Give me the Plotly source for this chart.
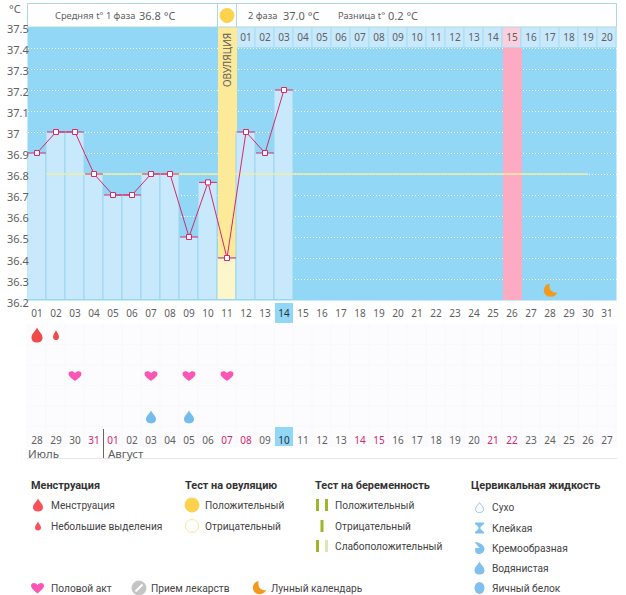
import plotly.graph_objects as go

W, H = 626, 595
FONT = "Noto Sans"
LEGEND_FONT = "Roboto"
# ---- data
days = list(range(1, 32))
top_dates = [f"{d:02d}" for d in days]
bottom_dates = ["28", "29", "30", "31"] + [f"{d:02d}" for d in range(1, 28)]
weekend_dates = {"31", "01", "07", "08", "14", "15", "21", "22"}
temp_days = list(range(1, 15))
temps = [36.9, 37.0, 37.0, 36.8, 36.7, 36.7, 36.8, 36.8, 36.5, 36.76, 36.4, 37.0, 36.9, 37.2]
y_ticks = [37.5, 37.4, 37.3, 37.2, 37.1, 37, 36.9, 36.8, 36.7, 36.6, 36.5, 36.4, 36.3, 36.2]
y_ticktext = ["37.5", "37.4", "37.3", "37.2", "37.1", "37", "36.9", "36.8", "36.7", "36.6", "36.5", "36.4", "36.3", "36.2"]
mean_line_days = [1.5, 30]
mean_line_vals = [36.8, 36.8]
ovulation_day = 11
ovulation_temp = 36.4
peak_day = 26
moon_day = 28
moon_temp = 36.245
phase2_days = list(range(12, 32))
phase2_labels = [f"{d:02d}" for d in range(1, 21)]
today_day = 14
today_bottom_index = 13
menses_big_days = [1]
menses_small_days = [2]
sex_days = [3, 7, 9, 11]
fluid_days = [7, 9]
rows = ["fluid", "sex", "menses"]

BLUE = "#92d7f5"
PALE = "#c8e9fb"
SEP = "#9ad5ef"
PINKLINE = "#d6286c"
TXT = "#606060"
LTXT = "#444444"


def fx(px):
    return px / W


def fy(py):
    return 1 - py / H


shapes, annos = [], []


def drop(w, h):
    t, m = h / 2, -h / 6
    return (f"M0,{t} C{w*0.12},{t*0.55} {w/2},{h*0.08} {w/2},{m} "
            f"C{w/2},{-h*0.42} {w*0.25},{-t} 0,{-t} C{-w*0.25},{-t} {-w/2},{-h*0.42} {-w/2},{m} "
            f"C{-w/2},{h*0.08} {-w*0.12},{t*0.55} 0,{t} Z")


def heart(w, h):
    a, b = w / 2, h / 2
    return (f"M0,{-b} C{-a*0.5},{-b*0.5} {-a},{-b*0.05} {-a},{b*0.4} C{-a},{b*1.05} {-a*0.3},{b*1.1} 0,{b*0.55} "
            f"C{a*0.3},{b*1.1} {a},{b*1.05} {a},{b*0.4} C{a},{-b*0.05} {a*0.5},{-b*0.5} 0,{-b} Z")


def moon(s):
    return (f"M{-s*0.05},{s} C{-s*1.15},{s*0.8} {-s*1.2},{-s*0.85} {s*0.1},{-s*0.9} "
            f"C{s*0.6},{-s*0.9} {s*0.95},{-s*0.55} {s},{-s*0.3} "
            f"C{s*0.5},{-s*0.35} {-s*0.25},{-s*0.1} {-s*0.05},{s} Z")


def icon(path, x, y, color, xref="x", yref="y", line=None, lw=0, layer="above"):
    shapes.append(dict(type="path", path=path, xref=xref, yref=yref, xanchor=x, yanchor=y,
                       xsizemode="pixel", ysizemode="pixel", fillcolor=color,
                       line=dict(color=line or color, width=lw), layer=layer))


def paper_rect(x0, y0, x1, y1, fill, line=None, lw=0, layer="below"):
    shapes.append(dict(type="rect", xref="paper", yref="paper", x0=fx(x0), x1=fx(x1), y0=fy(y0), y1=fy(y1),
                       fillcolor=fill, line=dict(color=line or fill, width=lw), layer=layer))


def label(x, y, text, size=11, color=TXT, anchor="left", family=FONT):
    annos.append(dict(xref="paper", yref="paper", x=fx(x), y=fy(y), text=text, showarrow=False, xanchor=anchor,
                      yanchor="middle", font=dict(family=family, size=size, color=color), borderpad=0))


def legend_label(x, y, text):
    label(x, y, text, 10.2, LTXT, family=LEGEND_FONT)


def legend_icon(path, px, py, color, **kw):
    icon(path, fx(px), fy(py), color, xref="paper", yref="paper", **kw)


def legend_circle(px, py, r, fill, line):
    shapes.append(dict(type="circle", xref="paper", yref="paper", xsizemode="pixel", ysizemode="pixel",
                       xanchor=fx(px), yanchor=fy(py), x0=-r, x1=r, y0=-r, y1=r, fillcolor=fill,
                       line=dict(color=line, width=1), layer="above"))


# ---- backgrounds
paper_rect(27.5, 27, 616.5, 300.5, BLUE)
paper_rect(27.5, 324, 616.5, 447, "#fcfbfd")
for i in range(32):
    x = 27 + 19 * i
    shapes.append(dict(type="line", xref="paper", yref="paper", x0=fx(x), x1=fx(x), y0=fy(324), y1=fy(447),
                       line=dict(color="#f9f8fb", width=1), layer="below"))
for j in range(1, 6):
    y = 324 + 20.5 * j
    shapes.append(dict(type="line", xref="paper", yref="paper", x0=fx(27.5), x1=fx(616.5), y0=fy(y), y1=fy(y),
                       line=dict(color="#f9f8fb", width=1), layer="below"))
# header
paper_rect(27.5, 3.5, 616.5, 27, "#ffffff", "#abd8e2", 1, "above")
for x in (217.5, 236.5):
    shapes.append(dict(type="line", xref="paper", yref="paper", x0=fx(x), x1=fx(x), y0=fy(3.5), y1=fy(27),
                       line=dict(color="#abd8e2", width=1), layer="above"))
legend_circle(227, 15.5, 7, "#fdd24c", "#fdd24c")
# today boxes
paper_rect(275, 303, 293, 323, BLUE)
paper_rect(275, 427, 293, 446, BLUE)
# rule under calendar
shapes.append(dict(type="line", xref="paper", yref="paper", x0=fx(27), x1=fx(617), y0=fy(458.5), y1=fy(458.5),
                   line=dict(color="#e6e6e6", width=1), layer="below"))
shapes.append(dict(type="line", xref="paper", yref="paper", x0=fx(103.5), x1=fx(103.5), y0=fy(429), y1=fy(458),
                   line=dict(color="#666666", width=1), layer="above"))

# ---- calendar marks
for d in menses_big_days:
    icon(drop(11, 15), d, "menses", "#f04a4a", xref="x2", yref="y2")
for d in menses_small_days:
    icon(drop(6, 10), d, "menses", "#f04a4a", xref="x2", yref="y2")
for d in sex_days:
    icon(heart(13, 10), d, "sex", "#fb55b5", xref="x2", yref="y2")
for d in fluid_days:
    icon(drop(10, 13), d, "fluid", "#74bcee", xref="x2", yref="y2")
icon(moon(7), moon_day, moon_temp, "#f39a1e")

# ---- y labels and texts
for v, t in zip(y_ticks, y_ticktext):
    annos.append(dict(xref="paper", yref="y", x=fx(4.5), y=v, text=t, showarrow=False, xanchor="left",
                      yanchor="middle", yshift=-2, font=dict(family=FONT, size=11, color=TXT)))
label(8, 8.5, "°C", 11)
label(54, 15.5, "Средняя t° 1 фаза", 9.3)
label(138, 15.5, "36.8 °C", 11)
label(247, 15.5, "2 фаза", 9.3)
label(282, 15.5, "37.0 °C", 11)
label(337, 15.5, "Разница t°", 9.3)
label(387, 15.5, "0.2 °C", 11)
annos.append(dict(xref="x", yref="paper", x=ovulation_day, y=fy(60), text="ОВУЛЯЦИЯ", textangle=-90, showarrow=False,
                  xanchor="center", yanchor="middle", font=dict(family=FONT, size=10, color=TXT)))
label(27, 453, "Июль", 11.5)
label(107, 453, "Август", 11.5)

# ---- legend
for x, t in [(30, "Менструация"), (184, "Тест на овуляцию"), (314, "Тест на беременность"), (470, "Цервикальная жидкость")]:
    label(x, 485, f"<b>{t}</b>", 10.9, "#333333", family=LEGEND_FONT)
legend_icon(drop(10, 13), 38, 505, "#f9505a")
legend_icon(drop(6, 9), 38, 526, "#f9505a")
legend_label(50, 505, "Менструация")
legend_label(50, 526, "Небольшие выделения")
legend_circle(192, 505, 7, "#fdd24c", "#fdd24c")
legend_circle(192, 526, 6.5, "#ffffff", "#fbe49b")
legend_label(204, 505, "Положительный")
legend_label(204, 526, "Отрицательный")
GREEN = "#9bb82a"


def stick(x, y, color):
    paper_rect(x - 1.5, y - 6, x + 1.5, y + 6, color, layer="above")


stick(317.5, 505, GREEN)
stick(326.5, 505, GREEN)
stick(322, 526, GREEN)
stick(317.5, 546, GREEN)
stick(326.5, 546, "#dde6b5")
legend_label(334, 505, "Положительный")
legend_label(334, 526, "Отрицательный")
legend_label(334, 546, "Слабоположительный")
FL = "#7fc0ef"
legend_icon(drop(8, 10), 479.5, 507.5, "#ffffff", line="#9cc8e6", lw=1)
legend_icon("M-4.5,5.5 L4.5,5.5 L4.5,4 L1,1 L1,-1 L4.5,-4 L4.5,-5.5 L-4.5,-5.5 L-4.5,-4 L-1,-1 L-1,1 L-4.5,4 Z", 479.5, 528, FL)
legend_icon("M-5,6 C0,6 5,3 5,-1 C5,-4 2,-6 -1,-6 C-4,-6 -5,-3 -4,0 L0,0 Z", 479.5, 548, FL)
legend_icon(drop(10, 13), 479.5, 568, FL)
shapes.append(dict(type="circle", xref="paper", yref="paper", xsizemode="pixel", ysizemode="pixel",
                   xanchor=fx(479.5), yanchor=fy(588), x0=-5, x1=5, y0=-6, y1=6, fillcolor=FL,
                   line=dict(color=FL, width=0), layer="above"))
legend_label(491, 507, "Сухо")
legend_label(491, 528, "Клейкая")
legend_label(491, 548, "Кремообразная")
legend_label(491, 568, "Водянистая")
legend_label(491, 588, "Яичный белок")
legend_icon(heart(13, 11), 37.5, 588, "#fb55b5")
legend_circle(139, 588, 7, "#c4c4c4", "#c4c4c4")
shapes.append(dict(type="line", xref="paper", yref="paper", xsizemode="pixel", ysizemode="pixel", xanchor=fx(139),
                   yanchor=fy(588), x0=-3.5, x1=3.5, y0=-3.5, y1=3.5, line=dict(color="#ffffff", width=2), layer="above"))
legend_icon(moon(7), 259, 588, "#f39a1e")
legend_label(50, 588, "Половой акт")
legend_label(150, 588, "Прием лекарств")
legend_label(270, 588, "Лунный календарь")

# ---- traces
fig = go.Figure()
fig.add_bar(x=phase2_days, y=[0.1] * len(phase2_days), base=37.4, width=1,
            marker=dict(color=["#fbd0dc" if d == peak_day else PALE for d in phase2_days],
                        line=dict(color="#a6dcf5", width=1)), xaxis="x", yaxis="y")
fig.add_bar(x=[peak_day], y=[37.4 - 36.2], base=36.2, width=0.95, marker=dict(color="#fcabc2", line=dict(width=0)))
fig.add_bar(x=[ovulation_day], y=[37.5 - ovulation_temp], base=ovulation_temp, width=1,
            marker=dict(color="#fdea98", line=dict(width=0)))
fig.add_bar(x=temp_days, y=[round(t - 36.2, 3) for t in temps], base=36.2, width=1,
            marker=dict(color=["#fdf6cb" if d == ovulation_day else PALE for d in temp_days],
                        line=dict(color=SEP, width=1)))
fig.add_scatter(x=phase2_days, y=[37.445] * len(phase2_days), mode="text", text=phase2_labels,
                textfont=dict(family=FONT, size=10, color=TXT))
fig.add_scatter(x=mean_line_days, y=mean_line_vals, mode="lines", line=dict(color="#f3eda0", width=1.5))
fig.add_scatter(x=temp_days, y=temps, mode="lines+markers",
                line=dict(color=PINKLINE, width=1),
                marker=dict(symbol="square", size=5, color="#ffffff", line=dict(color=PINKLINE, width=1)),
                error_x=dict(type="constant", value=0.47, color=PINKLINE, thickness=1, width=0))
# Invisible carrier so the calendar axes stay alive
fig.add_scatter(x=sex_days, y=["sex"] * len(sex_days), mode="markers", marker=dict(size=1, opacity=0),
                xaxis="x2", yaxis="y2")


def tick(t, i):
    if i == today_bottom_index:
        return f'<span style="color:#223344">{t}</span>'
    return f'<span style="color:#d6286c">{t}</span>' if t in weekend_dates else t


axis_common = dict(range=[0.5, 31.5], domain=[fx(27.5), fx(616.5)], tickmode="array", tickvals=days,
                   showgrid=False, zeroline=False, showline=False, ticks="outside",
                   tickcolor="rgba(0,0,0,0)", tickfont=dict(family=FONT, size=10, color=TXT), tickangle=0, fixedrange=True)
fig.update_layout(
    width=W, height=H, margin=dict(l=0, r=0, t=0, b=0), autosize=False,
    paper_bgcolor="#ffffff", plot_bgcolor="rgba(0,0,0,0)", showlegend=False, barmode="overlay", bargap=0,
    hovermode=False,
    xaxis=dict(axis_common,
               ticktext=[f'<span style="color:#223344">{t}</span>' if d == today_day else t
                         for d, t in zip(days, top_dates)], ticklen=4, anchor="y"),
    yaxis=dict(range=[36.2, 37.5], domain=[fy(300), fy(27)], tickmode="array", tickvals=y_ticks, showticklabels=False,
               showgrid=True, gridcolor="#ffffff", griddash="1px,2px", gridwidth=1, zeroline=False, showline=False,
               anchor="x", fixedrange=True),
    xaxis2=dict(axis_common, ticktext=[tick(t, i) for i, t in enumerate(bottom_dates)], ticklen=3, anchor="y2"),
    yaxis2=dict(type="category", categoryorder="array", categoryarray=rows, range=[-0.27, 2.27],
                domain=[fy(428), fy(324)], showgrid=False, showticklabels=False, zeroline=False, showline=False,
                anchor="x2", fixedrange=True),
    shapes=shapes, annotations=annos,
)
fig.write_html("out.html", config=dict(displayModeBar=False),
               post_script="document.body.style.margin='0';document.body.style.overflow='hidden';")
